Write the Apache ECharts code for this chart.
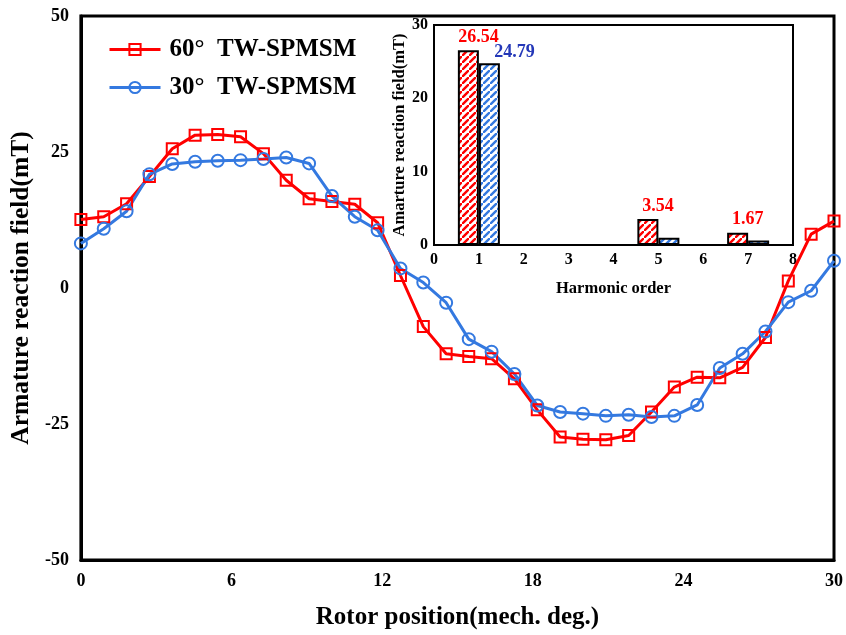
<!DOCTYPE html>
<html>
<head>
<meta charset="utf-8">
<script src="https://cdn.jsdelivr.net/npm/echarts@6/dist/echarts.min.js"></script>
<style>
  html, body { margin: 0; padding: 0; background: #fff; }
  #chart { width: 846px; height: 635px; }
</style>
</head>
<body>
<div id="chart"></div>
<script>
// rotor position (mech. deg.)
var rotorPos = [0, 0.91, 1.82, 2.73, 3.64, 4.55, 5.45, 6.36, 7.27, 8.18, 9.09, 10, 10.91, 11.82,
    12.73, 13.64, 14.55, 15.45, 16.36, 17.27, 18.18, 19.09, 20, 20.91, 21.82, 22.73, 23.64,
    24.55, 25.45, 26.36, 27.27, 28.18, 29.09, 30];
var field60 = [12.6, 13.1, 15.5, 20.5, 25.6, 28.1, 28.2, 27.8, 24.7, 19.8, 16.4, 15.9, 15.4, 12.0,
    2.3, -7.1, -12.1, -12.6, -13.0, -16.7, -22.4, -27.4, -27.8, -27.9, -27.1, -22.8, -18.2,
    -16.4, -16.5, -14.6, -9.1, 1.3, 9.9, 12.3];
var field30 = [8.2, 10.9, 14.1, 20.9, 22.8, 23.2, 23.4, 23.5, 23.7, 24.0, 22.9, 16.9, 13.1, 10.6,
    3.6, 1.0, -2.7, -9.4, -11.7, -15.8, -21.6, -22.8, -23.1, -23.5, -23.3, -23.7, -23.5,
    -21.5, -14.7, -12.1, -8.0, -2.6, -0.5, 5.0];
var xTicks = [0, 6, 12, 18, 24, 30];
var yTicks = [-50, -25, 0, 25, 50];

// 谐波
var harmonicOrder = [1, 5, 7];
var harm60 = [26.54, 3.54, 1.67];
var harm30 = [24.79, 1.0, 0.6];
var harmXTicks = [0, 1, 2, 3, 4, 5, 6, 7, 8];
var harmYTicks = [0, 10, 20, 30];

var names = ['60°  TW-SPMSM', '30°  TW-SPMSM'];
var RED = '#ff0000', BLUE = '#3479e0', LBLUE = '#2438b8';
var FONT = '"Liberation Serif", "Times New Roman", serif';

//斜线填充
function stripes(color){
    var s = 7;
    var c = document.createElement('canvas');
    c.width = s; c.height = s;
    var ctx = c.getContext('2d');
    ctx.fillStyle = '#fff';
    ctx.fillRect(0, 0, s, s);
    ctx.strokeStyle = color;
    ctx.lineWidth = 2.4;
    ctx.beginPath();
    ctx.moveTo(-1, s + 1); ctx.lineTo(s + 1, -1);
    ctx.moveTo(-s - 1, 1); ctx.lineTo(1, -s - 1);
    ctx.moveTo(s - 1, 2 * s + 1); ctx.lineTo(2 * s + 1, s - 1);
    ctx.stroke();
    return { image: c, repeat: 'repeat' };
}

function pairs(xs, ys){
    return xs.map(function(x, i){ return [x, ys[i]]; });
}

function txt(size){
    return { fontSize: size, fontWeight: 'bold', fontFamily: FONT, color: '#000' };
}

var myChart = echarts.init(document.getElementById('chart'), null, {renderer: 'canvas'});
var option = {
    backgroundColor: '#fff',
    animation: false,
    textStyle: { fontFamily: FONT, fontWeight: 'bold', color: '#000' },
    legend: {
        orient: 'vertical',
        left: 103,
        top: 32,
        itemWidth: 51,
        itemHeight: 14,
        itemGap: 13,
        data: names,
        lineStyle: { width: 3 },
        textStyle: { fontSize: 25, fontWeight: 'bold', fontFamily: FONT, color: '#000', padding: [0, 0, 0, 4] }
    },
    grid: [
        {
            left: 79, right: 9, top: 16, bottom: 73,
            show: true, borderColor: '#000', borderWidth: 3
        },
        {
            left: 434, right: 53, top: 25, height: 220,
            show: true, borderColor: '#000', borderWidth: 2, backgroundColor: '#fff'
        }
    ],
    xAxis: [
        {
            gridIndex: 0, type: 'value', min: xTicks[0], max: xTicks[xTicks.length - 1], interval: 6,
            name: 'Rotor position(mech. deg.)', nameLocation: 'middle', nameGap: 45,
            nameTextStyle: txt(25),
            axisLine: { onZero: false, lineStyle: { color: '#000', width: 3 } },
            axisTick: { show: false },
            splitLine: { show: false },
            axisLabel: Object.assign(txt(18), { margin: 12 })
        },
        {
            gridIndex: 1, type: 'value', min: harmXTicks[0], max: harmXTicks[harmXTicks.length - 1], interval: 1,
            name: 'Harmonic order', nameLocation: 'middle', nameGap: 35,
            nameTextStyle: txt(16.5),
            axisLine: { onZero: false, lineStyle: { color: '#000', width: 2 } },
            axisTick: { show: false },
            splitLine: { show: false },
            axisLabel: Object.assign(txt(16), { margin: 7 })
        }
    ],
    yAxis: [
        {
            gridIndex: 0, type: 'value', min: yTicks[0], max: yTicks[yTicks.length - 1], interval: 25,
            name: 'Armature reaction field(mT)', nameLocation: 'middle', nameGap: 39,
            nameTextStyle: txt(25.5),
            axisLine: { show: true, onZero: false, lineStyle: { color: '#000', width: 3 } },
            axisTick: { show: false },
            splitLine: { show: false },
            axisLabel: Object.assign(txt(18), { margin: 12 })
        },
        {
            gridIndex: 1, type: 'value', min: harmYTicks[0], max: harmYTicks[harmYTicks.length - 1], interval: 10,
            name: 'Amarture reaction field(mT)', nameLocation: 'middle', nameGap: 25,
            nameTextStyle: txt(16.5),
            axisLine: { show: true, onZero: false, lineStyle: { color: '#000', width: 2 } },
            axisTick: { show: false },
            splitLine: { show: false },
            axisLabel: Object.assign(txt(16), { margin: 6 })
        }
    ],
    series: [
        {
            name: names[0], type: 'line', xAxisIndex: 0, yAxisIndex: 0,
            symbol: 'rect', symbolSize: 11,
            itemStyle: { color: 'rgba(255,255,255,0)', borderColor: RED, borderWidth: 2 },
            lineStyle: { color: RED, width: 3 },
            data: pairs(rotorPos, field60)
        },
        {
            name: names[1], type: 'line', xAxisIndex: 0, yAxisIndex: 0,
            symbol: 'circle', symbolSize: 12,
            itemStyle: { color: 'rgba(255,255,255,0)', borderColor: BLUE, borderWidth: 2 },
            lineStyle: { color: BLUE, width: 3 },
            data: pairs(rotorPos, field30)
        },
        {
            name: 'h60', type: 'bar', xAxisIndex: 1, yAxisIndex: 1,
            barWidth: 21, barGap: '0%',
            itemStyle: { color: stripes(RED), borderColor: '#000', borderWidth: 2 },
            label: {
                show: true, position: 'top', offset: [10, 0], distance: 4,
                fontSize: 18, fontWeight: 'bold', fontFamily: FONT, color: RED,
                formatter: function(p){ return p.value[1].toFixed(2); }
            },
            data: pairs(harmonicOrder, harm60)
        },
        {
            name: 'h30', type: 'bar', xAxisIndex: 1, yAxisIndex: 1,
            barWidth: 21, barGap: '0%',
            itemStyle: { color: stripes(BLUE), borderColor: '#000', borderWidth: 2 },
            label: {
                show: false, position: 'top', offset: [25, 0], distance: 2,
                fontSize: 18, fontWeight: 'bold', fontFamily: FONT, color: LBLUE,
                formatter: function(p){ return p.value[1].toFixed(2); }
            },
            data: pairs(harmonicOrder, harm30).map(function(d, i){
                return i === 0 ? { value: d, label: { show: true } } : d;
            })
        }
    ]
};
myChart.setOption(option);
</script>
</body>
</html>
